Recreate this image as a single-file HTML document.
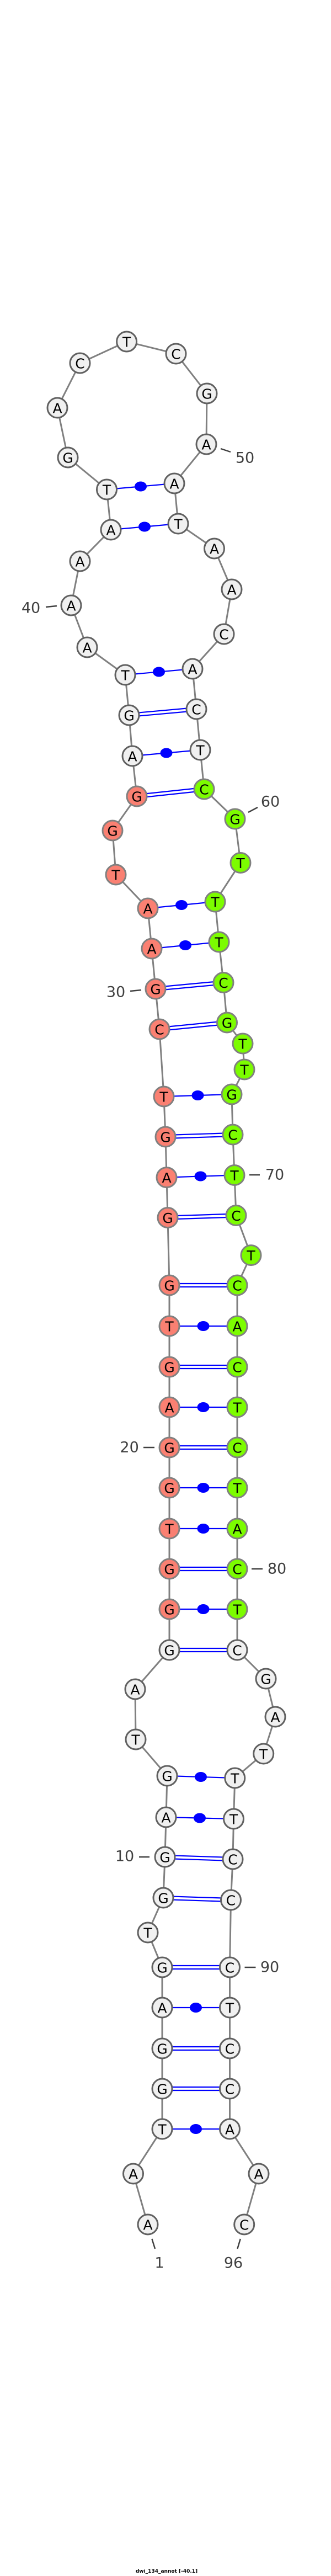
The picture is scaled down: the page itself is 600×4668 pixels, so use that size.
<!DOCTYPE html>
<html><head><meta charset="utf-8"><style>html,body{margin:0;padding:0;background:#fff}svg{display:block}</style></head><body>
<svg width="600" height="4668" viewBox="0 0 600 4668" xmlns="http://www.w3.org/2000/svg" font-family="'DejaVu Sans','Liberation Sans',sans-serif">
<g stroke="#808080" stroke-width="3" fill="none">
<polyline points="268,4031 241.5,3939 294,3858 294,3785 294,3712 294,3638 294,3565 268,3502 296,3439 299,3365 301,3293 303,3218 246,3152 245,3061 307,2990 307,2916 307,2843 307,2770 307,2696 307,2623 307,2550 307,2477 307,2403 307,2329 304,2206.5 302,2133.6 300,2060 297,1987 289,1865 282,1792 275,1719 268,1646 210,1585 204,1505 248,1443 240,1370 234,1296 227,1223 158,1173 129,1097 145,1017 201,960 193.5,887 123,829 104,739 145,658 229.6,619 319,641 375,713 374,805 316,876 323,949 388.5,994 420,1068 406,1149 349,1212 356,1285 363,1359 370,1430 426,1484 436,1563.5 390,1634 397,1707 405,1780.5 411.5,1853 440,1891 443,1938 420,1983 422,2056 425,2129.5 428,2202.5 455,2274.6 430,2329 430,2403 430,2477 430,2550 430,2623 430,2696 430,2770 430,2843 430,2916 430,2990 482,3042 499,3111 477.7,3178 425.8,3222 423.5,3296 422,3369 418.5,3443 416.5,3565 416.5,3638 416.5,3712 416.5,3785 416.5,3858 469,3939 442.7,4031"/>
</g>
<g stroke="#0000ff" stroke-width="2.2" fill="none">
<!-- single pairs -->
<line x1="294" y1="3858" x2="416.5" y2="3858"/>
<line x1="294" y1="3638" x2="416.5" y2="3638"/>
<line x1="301" y1="3293" x2="423.5" y2="3296"/>
<line x1="303" y1="3218" x2="425.8" y2="3222"/>
<line x1="307" y1="2916" x2="430" y2="2916"/>
<line x1="307" y1="2770" x2="430" y2="2770"/>
<line x1="307" y1="2696" x2="430" y2="2696"/>
<line x1="307" y1="2550" x2="430" y2="2550"/>
<line x1="307" y1="2403" x2="430" y2="2403"/>
<line x1="302" y1="2133.6" x2="425" y2="2129.5"/>
<line x1="297" y1="1987" x2="420" y2="1983"/>
<line x1="275" y1="1719" x2="397" y2="1707"/>
<line x1="268" y1="1646" x2="390" y2="1634"/>
<line x1="240" y1="1370" x2="363" y2="1359"/>
<line x1="227" y1="1223" x2="349" y2="1212"/>
<line x1="201" y1="960" x2="323" y2="949"/>
<line x1="193.5" y1="887" x2="316" y2="876"/>
<!-- double pairs -->
<g>
<line x1="294" y1="3782" x2="416.5" y2="3782"/><line x1="294" y1="3788" x2="416.5" y2="3788"/>
<line x1="294" y1="3709" x2="416.5" y2="3709"/><line x1="294" y1="3715" x2="416.5" y2="3715"/>
<line x1="294" y1="3562" x2="416.5" y2="3562"/><line x1="294" y1="3568" x2="416.5" y2="3568"/>
<line x1="296" y1="3436" x2="418.5" y2="3440"/><line x1="296" y1="3442" x2="418.5" y2="3446"/>
<line x1="299" y1="3362" x2="422" y2="3366"/><line x1="299" y1="3368" x2="422" y2="3372"/>
<line x1="307" y1="2987" x2="430" y2="2987"/><line x1="307" y1="2993" x2="430" y2="2993"/>
<line x1="307" y1="2840" x2="430" y2="2840"/><line x1="307" y1="2846" x2="430" y2="2846"/>
<line x1="307" y1="2620" x2="430" y2="2620"/><line x1="307" y1="2626" x2="430" y2="2626"/>
<line x1="307" y1="2474" x2="430" y2="2474"/><line x1="307" y1="2480" x2="430" y2="2480"/>
<line x1="307" y1="2326" x2="430" y2="2326"/><line x1="307" y1="2332" x2="430" y2="2332"/>
<line x1="304" y1="2203.5" x2="428" y2="2199.5"/><line x1="304" y1="2209.5" x2="428" y2="2205.5"/>
<line x1="300" y1="2057" x2="422" y2="2053"/><line x1="300" y1="2063" x2="422" y2="2059"/>
<line x1="289" y1="1862" x2="411.5" y2="1850"/><line x1="289" y1="1868" x2="411.5" y2="1856"/>
<line x1="282" y1="1789" x2="405" y2="1777.5"/><line x1="282" y1="1795" x2="405" y2="1783.5"/>
<line x1="248" y1="1440" x2="370" y2="1427"/><line x1="248" y1="1446" x2="370" y2="1433"/>
<line x1="234" y1="1293" x2="356" y2="1282"/><line x1="234" y1="1299" x2="356" y2="1288"/>
</g>
</g>
<g fill="#0000ff">
<ellipse cx="355" cy="3858" rx="11" ry="9"/>
<ellipse cx="355" cy="3638" rx="11" ry="9"/>
<ellipse cx="362" cy="3294.5" rx="11" ry="9"/>
<ellipse cx="364" cy="3220" rx="11" ry="9"/>
<ellipse cx="368.5" cy="2916" rx="11" ry="9"/>
<ellipse cx="368.5" cy="2770" rx="11" ry="9"/>
<ellipse cx="368.5" cy="2696" rx="11" ry="9"/>
<ellipse cx="368.5" cy="2550" rx="11" ry="9"/>
<ellipse cx="368.5" cy="2403" rx="11" ry="9"/>
<ellipse cx="363.5" cy="2131.5" rx="11" ry="9"/>
<ellipse cx="358.5" cy="1985" rx="11" ry="9"/>
<ellipse cx="336" cy="1713" rx="11" ry="9"/>
<ellipse cx="329" cy="1640" rx="11" ry="9"/>
<ellipse cx="301.5" cy="1364.5" rx="11" ry="9"/>
<ellipse cx="288" cy="1217.5" rx="11" ry="9"/>
<ellipse cx="262" cy="954.5" rx="11" ry="9"/>
<ellipse cx="255" cy="881.5" rx="11" ry="9"/>
</g>
<!-- nodes -->
<g stroke-width="3" font-size="25" text-anchor="middle" dominant-baseline="central">
<g fill="#f0f0f0" stroke="#606060">
<circle cx="268" cy="4031" r="18"/><circle cx="241.5" cy="3939" r="18"/><circle cx="294" cy="3858" r="18"/><circle cx="294" cy="3785" r="18"/><circle cx="294" cy="3712" r="18"/><circle cx="294" cy="3638" r="18"/><circle cx="294" cy="3565" r="18"/><circle cx="268" cy="3502" r="18"/><circle cx="296" cy="3439" r="18"/><circle cx="299" cy="3365" r="18"/><circle cx="301" cy="3293" r="18"/><circle cx="303" cy="3218" r="18"/><circle cx="246" cy="3152" r="18"/><circle cx="245" cy="3061" r="18"/><circle cx="307" cy="2990" r="18"/>
<circle cx="240" cy="1370" r="18"/><circle cx="234" cy="1296" r="18"/><circle cx="227" cy="1223" r="18"/><circle cx="158" cy="1173" r="18"/><circle cx="129" cy="1097" r="18"/><circle cx="145" cy="1017" r="18"/><circle cx="201" cy="960" r="18"/><circle cx="193.5" cy="887" r="18"/><circle cx="123" cy="829" r="18"/><circle cx="104" cy="739" r="18"/><circle cx="145" cy="658" r="18"/><circle cx="229.6" cy="619" r="18"/><circle cx="319" cy="641" r="18"/><circle cx="375" cy="713" r="18"/><circle cx="374" cy="805" r="18"/><circle cx="316" cy="876" r="18"/><circle cx="323" cy="949" r="18"/><circle cx="388.5" cy="994" r="18"/><circle cx="420" cy="1068" r="18"/><circle cx="406" cy="1149" r="18"/><circle cx="349" cy="1212" r="18"/><circle cx="356" cy="1285" r="18"/><circle cx="363" cy="1359" r="18"/>
<circle cx="430" cy="2990" r="18"/><circle cx="482" cy="3042" r="18"/><circle cx="499" cy="3111" r="18"/><circle cx="477.7" cy="3178" r="18"/><circle cx="425.8" cy="3222" r="18"/><circle cx="423.5" cy="3296" r="18"/><circle cx="422" cy="3369" r="18"/><circle cx="418.5" cy="3443" r="18"/><circle cx="416.5" cy="3565" r="18"/><circle cx="416.5" cy="3638" r="18"/><circle cx="416.5" cy="3712" r="18"/><circle cx="416.5" cy="3785" r="18"/><circle cx="416.5" cy="3858" r="18"/><circle cx="469" cy="3939" r="18"/><circle cx="442.7" cy="4031" r="18"/>
</g>
<g fill="#fa8072" stroke="#808080">
<circle cx="307" cy="2916" r="18"/><circle cx="307" cy="2843" r="18"/><circle cx="307" cy="2770" r="18"/><circle cx="307" cy="2696" r="18"/><circle cx="307" cy="2623" r="18"/><circle cx="307" cy="2550" r="18"/><circle cx="307" cy="2477" r="18"/><circle cx="307" cy="2403" r="18"/><circle cx="307" cy="2329" r="18"/><circle cx="304" cy="2206.5" r="18"/><circle cx="302" cy="2133.6" r="18"/><circle cx="300" cy="2060" r="18"/><circle cx="297" cy="1987" r="18"/><circle cx="289" cy="1865" r="18"/><circle cx="282" cy="1792" r="18"/><circle cx="275" cy="1719" r="18"/><circle cx="268" cy="1646" r="18"/><circle cx="210" cy="1585" r="18"/><circle cx="204" cy="1505" r="18"/><circle cx="248" cy="1443" r="18"/>
</g>
<g fill="#7cfc00" stroke="#808080">
<circle cx="370" cy="1430" r="18"/><circle cx="426" cy="1484" r="18"/><circle cx="436" cy="1563.5" r="18"/><circle cx="390" cy="1634" r="18"/><circle cx="397" cy="1707" r="18"/><circle cx="405" cy="1780.5" r="18"/><circle cx="411.5" cy="1853" r="18"/><circle cx="440" cy="1891" r="18"/><circle cx="443" cy="1938" r="18"/><circle cx="420" cy="1983" r="18"/><circle cx="422" cy="2056" r="18"/><circle cx="425" cy="2129.5" r="18"/><circle cx="428" cy="2202.5" r="18"/><circle cx="455" cy="2274.6" r="18"/><circle cx="430" cy="2329" r="18"/><circle cx="430" cy="2403" r="18"/><circle cx="430" cy="2477" r="18"/><circle cx="430" cy="2550" r="18"/><circle cx="430" cy="2623" r="18"/><circle cx="430" cy="2696" r="18"/><circle cx="430" cy="2770" r="18"/><circle cx="430" cy="2843" r="18"/><circle cx="430" cy="2916" r="18"/>
</g>
<g fill="#000" stroke="none">
<text x="268" y="4032">A</text><text x="241.5" y="3940">A</text><text x="294" y="3859">T</text><text x="294" y="3786">G</text><text x="294" y="3713">G</text><text x="294" y="3639">A</text><text x="294" y="3566">G</text><text x="268" y="3503">T</text><text x="296" y="3440">G</text><text x="299" y="3366">G</text><text x="301" y="3294">A</text><text x="303" y="3219">G</text><text x="246" y="3153">T</text><text x="245" y="3062">A</text><text x="307" y="2991">G</text>
<text x="307" y="2917">G</text><text x="307" y="2844">G</text><text x="307" y="2771">T</text><text x="307" y="2697">G</text><text x="307" y="2624">G</text><text x="307" y="2551">A</text><text x="307" y="2478">G</text><text x="307" y="2404">T</text><text x="307" y="2330">G</text><text x="304" y="2207.5">G</text><text x="302" y="2134.6">A</text><text x="300" y="2061">G</text><text x="297" y="1988">T</text><text x="289" y="1866">C</text><text x="282" y="1793">G</text><text x="275" y="1720">A</text><text x="268" y="1647">A</text><text x="210" y="1586">T</text><text x="204" y="1506">G</text><text x="248" y="1444">G</text>
<text x="240" y="1371">A</text><text x="234" y="1297">G</text><text x="227" y="1224">T</text><text x="158" y="1174">A</text><text x="129" y="1098">A</text><text x="145" y="1018">A</text><text x="201" y="961">A</text><text x="193.5" y="888">T</text><text x="123" y="830">G</text><text x="104" y="740">A</text><text x="145" y="659">C</text><text x="229.6" y="620">T</text><text x="319" y="642">C</text><text x="375" y="714">G</text><text x="374" y="806">A</text><text x="316" y="877">A</text><text x="323" y="950">T</text><text x="388.5" y="995">A</text><text x="420" y="1069">A</text><text x="406" y="1150">C</text><text x="349" y="1213">A</text><text x="356" y="1286">C</text><text x="363" y="1360">T</text>
<text x="370" y="1431">C</text><text x="426" y="1485">G</text><text x="436" y="1564.5">T</text><text x="390" y="1635">T</text><text x="397" y="1708">T</text><text x="405" y="1781.5">C</text><text x="411.5" y="1854">G</text><text x="440" y="1892">T</text><text x="443" y="1939">T</text><text x="420" y="1984">G</text><text x="422" y="2057">C</text><text x="425" y="2130.5">T</text><text x="428" y="2203.5">C</text><text x="455" y="2275.6">T</text><text x="430" y="2330">C</text><text x="430" y="2404">A</text><text x="430" y="2478">C</text><text x="430" y="2551">T</text><text x="430" y="2624">C</text><text x="430" y="2697">T</text><text x="430" y="2771">A</text><text x="430" y="2844">C</text><text x="430" y="2917">T</text>
<text x="430" y="2991">C</text><text x="482" y="3043">G</text><text x="499" y="3112">A</text><text x="477.7" y="3179">T</text><text x="425.8" y="3223">T</text><text x="423.5" y="3297">T</text><text x="422" y="3370">C</text><text x="418.5" y="3444">C</text><text x="416.5" y="3566">C</text><text x="416.5" y="3639">T</text><text x="416.5" y="3713">C</text><text x="416.5" y="3786">C</text><text x="416.5" y="3859">A</text><text x="469" y="3940">A</text><text x="442.7" y="4032">C</text>
</g>
</g>
<!-- number labels -->
<g stroke="#404040" stroke-width="2.5">
<line x1="400" y1="813" x2="418" y2="819"/>
<line x1="83" y1="1100" x2="103" y2="1098"/>
<line x1="450" y1="1472" x2="467" y2="1463"/>
<line x1="236" y1="1796" x2="256" y2="1794"/>
<line x1="452" y1="2129" x2="471" y2="2129"/>
<line x1="260" y1="2623" x2="280" y2="2623"/>
<line x1="456" y1="2843" x2="476" y2="2843"/>
<line x1="252" y1="3365" x2="271" y2="3365"/>
<line x1="443.5" y1="3565" x2="463.5" y2="3565"/>
<line x1="275.4" y1="4057" x2="281" y2="4075"/>
<line x1="435.8" y1="4057" x2="430.4" y2="4075"/>
</g>
<g fill="#404040" font-size="27" text-anchor="middle" dominant-baseline="central">
<text x="444" y="830">50</text>
<text x="56" y="1102">40</text>
<text x="490" y="1453">60</text>
<text x="210" y="1798">30</text>
<text x="498" y="2129">70</text>
<text x="234.6" y="2623">20</text>
<text x="502" y="2843">80</text>
<text x="226" y="3364">10</text>
<text x="489" y="3565">90</text>
<text x="289" y="4101">1</text>
<text x="423" y="4101">96</text>
</g>
<text x="302" y="4660" font-size="9" font-weight="bold" text-anchor="middle" dominant-baseline="central" fill="#000">dwi_134_annot [-40.1]</text>
</svg>
</body></html>
